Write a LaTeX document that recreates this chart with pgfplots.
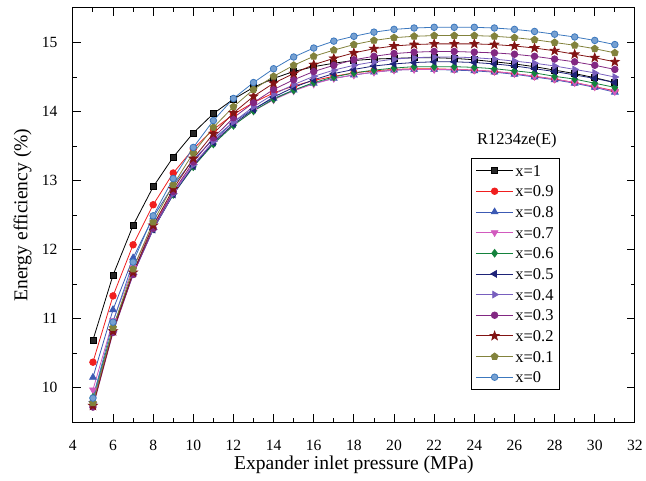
\documentclass[border=0pt]{standalone}
\usepackage{fontspec}
\setmainfont{Liberation Serif}
\usepackage{pgfplots}
\usepackage{pgfplotstable}
\pgfplotsset{compat=1.18}
\usetikzlibrary{plotmarks}

\definecolor{c1}{RGB}{0,0,0}
\definecolor{c09}{RGB}{240,30,30}
\definecolor{c08}{RGB}{60,90,180}
\definecolor{c07}{RGB}{210,90,190}
\definecolor{c06}{RGB}{20,130,60}
\definecolor{c05}{RGB}{30,35,120}
\definecolor{c04}{RGB}{120,95,190}
\definecolor{c03}{RGB}{130,40,130}
\definecolor{c02}{RGB}{130,20,20}
\definecolor{c01}{RGB}{130,130,60}
\definecolor{c0}{RGB}{60,120,190}

\pgfdeclareplotmark{fstar}{%
  \pgfpathmoveto{\pgfpointpolar{90}{1.35\pgfplotmarksize}}%
  \pgfpathlineto{\pgfpointpolar{126}{0.55\pgfplotmarksize}}%
  \pgfpathlineto{\pgfpointpolar{162}{1.35\pgfplotmarksize}}%
  \pgfpathlineto{\pgfpointpolar{198}{0.55\pgfplotmarksize}}%
  \pgfpathlineto{\pgfpointpolar{234}{1.35\pgfplotmarksize}}%
  \pgfpathlineto{\pgfpointpolar{270}{0.55\pgfplotmarksize}}%
  \pgfpathlineto{\pgfpointpolar{306}{1.35\pgfplotmarksize}}%
  \pgfpathlineto{\pgfpointpolar{342}{0.55\pgfplotmarksize}}%
  \pgfpathlineto{\pgfpointpolar{18}{1.35\pgfplotmarksize}}%
  \pgfpathlineto{\pgfpointpolar{54}{0.55\pgfplotmarksize}}%
  \pgfpathclose\pgfusepathqfillstroke}

\pgfplotstableread{
p s1 s09 s08 s07 s06 s05 s04 s03 s02 s01 s0
5 10.69 10.37 10.15 9.97 9.86 9.80 9.78 9.72 9.74 9.78 9.85
6 11.63 11.33 11.13 10.97 10.87 10.84 10.82 10.80 10.82 10.87 10.95
7 12.35 12.07 11.88 11.74 11.67 11.65 11.64 11.64 11.67 11.72 11.82
8 12.91 12.65 12.47 12.35 12.30 12.29 12.29 12.31 12.35 12.40 12.49
9 13.34 13.11 12.93 12.84 12.80 12.80 12.81 12.84 12.88 12.94 13.03
10 13.69 13.46 13.30 13.23 13.20 13.21 13.23 13.27 13.32 13.40 13.48
11 13.97 13.74 13.60 13.55 13.53 13.55 13.57 13.62 13.68 13.77 13.87
12 14.18 13.96 13.85 13.81 13.80 13.82 13.85 13.91 13.98 14.07 14.19
13 14.35 14.13 14.04 14.01 14.01 14.03 14.07 14.13 14.22 14.32 14.42
14 14.48 14.27 14.19 14.17 14.18 14.21 14.25 14.32 14.41 14.51 14.62
15 14.58 14.37 14.31 14.30 14.31 14.35 14.39 14.46 14.55 14.67 14.79
16 14.65 14.45 14.41 14.40 14.42 14.46 14.51 14.58 14.68 14.80 14.92
17 14.70 14.51 14.48 14.48 14.50 14.55 14.60 14.67 14.77 14.89 15.02
18 14.74 14.56 14.53 14.53 14.56 14.61 14.67 14.75 14.85 14.97 15.09
19 14.76 14.59 14.57 14.57 14.60 14.66 14.72 14.80 14.91 15.03 15.15
20 14.77 14.61 14.60 14.60 14.63 14.69 14.76 14.84 14.95 15.07 15.19
21 14.78 14.62 14.61 14.61 14.65 14.71 14.78 14.86 14.97 15.09 15.21
22 14.78 14.62 14.61 14.61 14.65 14.72 14.79 14.87 14.98 15.10 15.22
23 14.77 14.61 14.60 14.61 14.65 14.72 14.79 14.87 14.98 15.10 15.22
24 14.75 14.60 14.59 14.60 14.64 14.71 14.78 14.86 14.98 15.10 15.22
25 14.72 14.58 14.57 14.58 14.62 14.69 14.76 14.85 14.97 15.09 15.21
26 14.69 14.55 14.54 14.55 14.59 14.66 14.73 14.83 14.95 15.07 15.19
27 14.65 14.51 14.50 14.51 14.56 14.62 14.70 14.80 14.92 15.04 15.16
28 14.60 14.47 14.46 14.47 14.51 14.58 14.66 14.76 14.88 15.00 15.12
29 14.55 14.42 14.41 14.42 14.47 14.53 14.61 14.72 14.83 14.96 15.08
30 14.49 14.36 14.35 14.36 14.41 14.48 14.56 14.67 14.78 14.91 15.03
31 14.42 14.30 14.28 14.29 14.35 14.42 14.50 14.61 14.72 14.85 14.97
}\data

\begin{document}
\begin{tikzpicture}
\begin{axis}[
  scale only axis, width=563pt, height=415pt,
  xmin=4, xmax=32, ymin=9.5, ymax=15.5,
  xtick={4,6,...,32}, ytick={10,11,...,15},
  minor x tick num=1, minor y tick num=1,
  tick align=inside,
  major tick length=8pt, minor tick length=4pt,
  axis line style={line width=1pt},
  every tick/.style={line width=0.9pt, black},
  /pgf/number format/assume math mode=true,
  tick label style={font=\fontsize{15.6}{18}\selectfont},
  xticklabel style={yshift=-14pt},
  yticklabel style={xshift=-12pt},
  label style={font=\fontsize{19.6}{23}\selectfont},
  xlabel={Expander inlet pressure (MPa)},
  ylabel={Energy efficiency (\%)},
  xlabel style={at={(axis description cs:0.5,-0.1036)}, anchor=center},
  ylabel style={at={(axis description cs:-0.0893,0.5)}, anchor=center},
  legend cell align=left,
  legend image code/.code={\draw[mark repeat=2,mark phase=2,#1] plot coordinates {(0pt,0pt) (18.5pt,0pt) (37pt,0pt)};},
  legend style={at={(axis description cs:0.709,0.6386)}, anchor=north west,
    font=\fontsize{16.5}{19}\selectfont, draw=black, line width=0.8pt,
    inner xsep=4pt, inner ysep=4.75pt, row sep=5.2pt,
    nodes={inner sep=2pt, text height=11.5pt, text depth=0pt}},
  every axis plot/.append style={line width=0.8pt, mark size=3.3pt},
]
\addplot[c1, mark=square*, mark size=3pt, mark options={fill=c1!85!white}] table[x=p,y=s1] {\data};
\addplot[c09, mark=*, mark options={fill=c09}] table[x=p,y=s09] {\data};
\addplot[c08, mark=triangle*, mark size=3.8pt, mark options={fill=c08}] table[x=p,y=s08] {\data};
\addplot[c07, mark=triangle*, mark size=3.8pt, mark options={fill=c07, rotate=180}] table[x=p,y=s07] {\data};
\addplot[c06, mark=diamond*, mark size=3.8pt, mark options={fill=c06}] table[x=p,y=s06] {\data};
\addplot[c05, mark=triangle*, mark size=3.8pt, mark options={fill=c05, rotate=90}] table[x=p,y=s05] {\data};
\addplot[c04, mark=triangle*, mark size=3.8pt, mark options={fill=c04, rotate=-90}] table[x=p,y=s04] {\data};
\addplot[c03, mark=*, mark options={fill=c03}] table[x=p,y=s03] {\data};
\addplot[c02, mark=fstar, mark size=3.4pt, mark options={fill=c02}] table[x=p,y=s02] {\data};
\addplot[c01, mark=pentagon*, mark size=3.6pt, mark options={fill=c01}] table[x=p,y=s01] {\data};
\addplot[c0, mark=*, mark options={fill=c0!70!white}] table[x=p,y=s0] {\data};
\legend{x=1,x=0.9,x=0.8,x=0.7,x=0.6,x=0.5,x=0.4,x=0.3,x=0.2,x=0.1,x=0}
\node[font=\fontsize{16.5}{19}\selectfont] at (axis description cs:0.790,0.6795) {R1234ze(E)};
\end{axis}
\useasboundingbox (-73pt,-58pt) rectangle (573pt,423pt);
\end{tikzpicture}
\end{document}
